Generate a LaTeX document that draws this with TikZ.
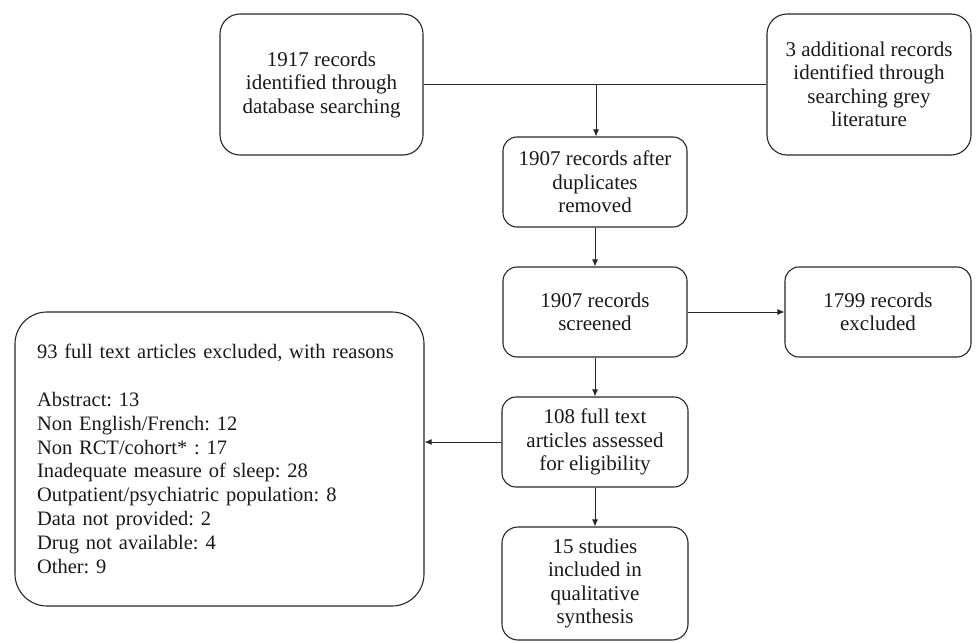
\documentclass[tikz,border=0pt]{standalone}
\usepackage{fontspec}
\setmainfont{Liberation Serif}
\usetikzlibrary{arrows.meta}
\frenchspacing
\begin{document}
\begin{tikzpicture}[x=1pt,y=-1pt,
  box/.style={draw=black!85, line width=1.1pt, align=center, inner sep=0pt,
    font=\fontsize{21}{23.5}\selectfont\frenchspacing, text=black!90},
  conn/.style={draw=black!85, line width=0.9pt},
  arr/.style={conn, -{Latex[length=7pt,width=6pt]}}]
\useasboundingbox (0,0) rectangle (976,642);
\node[box, rounded corners=20pt, minimum width=203pt, minimum height=141pt] (A) at (321.5,84.5)
  {1917 records\\identified through\\database searching};
\node[box, rounded corners=20pt, minimum width=204pt, minimum height=141pt] (B) at (869,84.5)
  {3 additional records\\identified through\\searching grey\\literature};
\node[box, rounded corners=14pt, minimum width=184pt, minimum height=90pt] (C) at (595,182)
  {1907 records after\\duplicates\\removed};
\node[box, rounded corners=14pt, minimum width=184pt, minimum height=90pt] (D) at (595,312)
  {1907 records\\screened};
\node[box, rounded corners=14pt, minimum width=186pt, minimum height=90pt] (E) at (878,312)
  {1799 records\\excluded};
\node[box, rounded corners=14pt, minimum width=186pt, minimum height=90pt] (G) at (595,442)
  {108 full text\\articles assessed\\for eligibility};
\node[box, rounded corners=16pt, minimum width=186pt, minimum height=113pt] (H) at (595,583.5)
  {15 studies\\included in\\qualitative\\synthesis};
\node[box, rounded corners=32pt, minimum width=409pt, minimum height=294pt, align=left,
  text width=365pt, inner xsep=22pt, font=\fontsize{20.5}{23.8}\selectfont\frenchspacing] (F) at (219.5,459)
  {93 full text articles excluded, with reasons\\[23.8pt]
   Abstract: 13\\
   Non English/French: 12\\
   Non RCT/cohort* : 17\\
   Inadequate measure of sleep: 28\\
   Outpatient/psychiatric population: 8\\
   Data not provided: 2\\
   Drug not available: 4\\
   Other: 9};
\coordinate (J) at (596,84.5);
\draw[conn] (A.east) -- (B.west);
\draw[arr] (J) -- (J |- C.north);
\draw[arr] (C.south) -- (D.north);
\draw[arr] (D.east) -- (E.west);
\draw[arr] (D.south) -- (G.north);
\draw[arr] (G.west) -- (G.west -| F.east);
\draw[arr] (G.south) -- (H.north);
\end{tikzpicture}
\end{document}
